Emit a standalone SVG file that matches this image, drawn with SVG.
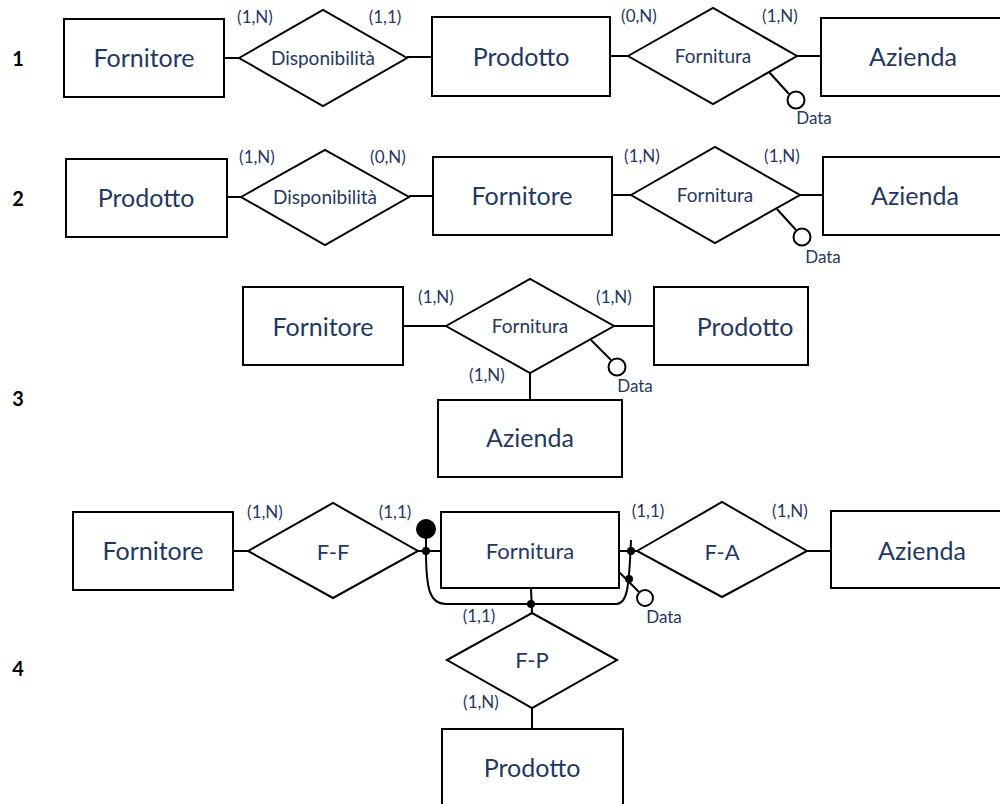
<svg xmlns="http://www.w3.org/2000/svg" width="1000" height="804" viewBox="0 0 1000 804">
<style>
.box{fill:#fff;stroke:#000;stroke-width:2}
.rel{fill:#fff;stroke:#000;stroke-width:2}
.ln{fill:none;stroke:#000;stroke-width:2}
.att{fill:#fff;stroke:#000;stroke-width:2}
.dot{fill:#000}
text{font-family:"Lato","Liberation Sans",sans-serif;fill:#1F3864;text-anchor:middle}
.ent{font-size:25px}
.rn{font-size:19px}
.rn2{font-size:22px}
.card{font-size:17px}
.dt{font-size:17px}
.num{font-size:20px;font-weight:bold;fill:#000}
</style>
<rect width="1000" height="804" fill="#fff"/>

<g id="row-labels">
<text class="num" x="18" y="66">1</text>
<text class="num" x="18" y="206">2</text>
<text class="num" x="18" y="406">3</text>
<text class="num" x="18" y="676">4</text>
</g>

<g id="connectors">
<!-- row 1 -->
<line class="ln" x1="224" y1="58" x2="239" y2="58"/>
<line class="ln" x1="407" y1="57" x2="432" y2="57"/>
<line class="ln" x1="610" y1="56" x2="628" y2="56"/>
<line class="ln" x1="797" y1="56" x2="821" y2="56"/>
<line class="ln" x1="769" y1="72" x2="789" y2="94"/>
<!-- row 2 -->
<line class="ln" x1="227" y1="197" x2="241" y2="197"/>
<line class="ln" x1="409" y1="196" x2="433" y2="196"/>
<line class="ln" x1="612" y1="195" x2="631" y2="195"/>
<line class="ln" x1="800" y1="195" x2="823" y2="195"/>
<line class="ln" x1="776" y1="208" x2="796" y2="230"/>
<!-- row 3 -->
<line class="ln" x1="403" y1="326" x2="446" y2="326"/>
<line class="ln" x1="614" y1="326" x2="654" y2="326"/>
<line class="ln" x1="530" y1="373" x2="530" y2="400"/>
<line class="ln" x1="591" y1="340" x2="611" y2="360"/>
<!-- row 4 -->
<line class="ln" x1="233" y1="551" x2="248" y2="551"/>
<line class="ln" x1="418" y1="551" x2="441" y2="551"/>
<line class="ln" x1="619" y1="551" x2="637" y2="551"/>
<line class="ln" x1="807" y1="551" x2="831" y2="551"/>
<line class="ln" x1="531" y1="588" x2="532" y2="613"/>
<line class="ln" x1="532" y1="708" x2="532" y2="729"/>
<line class="ln" x1="426" y1="529" x2="426" y2="551"/>
<path class="ln" d="M426,551 C426,590 430,604 446,604 L616,604 C627,604 629,590 631,540"/>
<line class="ln" x1="618" y1="571" x2="639" y2="592"/>
<circle class="dot" cx="426" cy="529" r="10"/>
<circle class="dot" cx="426" cy="551" r="4"/>
<circle class="dot" cx="531" cy="604" r="4"/>
<circle class="dot" cx="631" cy="551" r="4"/>
<circle class="dot" cx="629" cy="579" r="4"/>
</g>

<!-- Row 1 -->
<g id="r1-fornitore"><rect class="box" x="64" y="19" width="160" height="78"/><text class="ent" x="144" y="67">Fornitore</text></g>
<g id="r1-disponibilita"><polygon class="rel" points="239,58 323,10 407,58 323,106"/><text class="rn" x="323" y="65">Disponibilità</text></g>
<g id="r1-prodotto"><rect class="box" x="432" y="17" width="178" height="79"/><text class="ent" x="521" y="66">Prodotto</text></g>
<g id="r1-fornitura"><polygon class="rel" points="628,56 713,8 797,56 713,104"/><text class="rn" x="713" y="63">Fornitura</text></g>
<g id="r1-azienda"><rect class="box" x="821" y="18" width="190" height="78"/><text class="ent" x="913" y="66">Azienda</text></g>
<g id="r1-data"><circle class="att" cx="796" cy="100" r="8.5"/><text class="dt" x="814" y="124">Data</text></g>
<g id="r1-cards">
<text class="card" x="255" y="23">(1,N)</text>
<text class="card" x="385" y="23">(1,1)</text>
<text class="card" x="639" y="22">(0,N)</text>
<text class="card" x="780" y="22">(1,N)</text>
</g>

<!-- Row 2 -->
<g id="r2-prodotto"><rect class="box" x="66" y="159" width="161" height="78"/><text class="ent" x="146" y="207">Prodotto</text></g>
<g id="r2-disponibilita"><polygon class="rel" points="241,197 325,150 409,197 325,245"/><text class="rn" x="325" y="204">Disponibilità</text></g>
<g id="r2-fornitore"><rect class="box" x="433" y="157" width="179" height="78"/><text class="ent" x="522" y="205">Fornitore</text></g>
<g id="r2-fornitura"><polygon class="rel" points="631,195 715,147 800,195 715,243"/><text class="rn" x="715" y="202">Fornitura</text></g>
<g id="r2-azienda"><rect class="box" x="823" y="157" width="190" height="78"/><text class="ent" x="915" y="205">Azienda</text></g>
<g id="r2-data"><circle class="att" cx="802" cy="237" r="8.5"/><text class="dt" x="823" y="263">Data</text></g>
<g id="r2-cards">
<text class="card" x="257" y="163">(1,N)</text>
<text class="card" x="388" y="163">(0,N)</text>
<text class="card" x="642" y="162">(1,N)</text>
<text class="card" x="782" y="162">(1,N)</text>
</g>

<!-- Row 3 -->
<g id="r3-fornitore"><rect class="box" x="243" y="287" width="160" height="78"/><text class="ent" x="323" y="336">Fornitore</text></g>
<g id="r3-fornitura"><polygon class="rel" points="446,326 530,279 614,326 530,373"/><text class="rn" x="530" y="333">Fornitura</text></g>
<g id="r3-prodotto"><rect class="box" x="654" y="287" width="154" height="78"/><text class="ent" x="745" y="336">Prodotto</text></g>
<g id="r3-azienda"><rect class="box" x="438" y="400" width="184" height="77"/><text class="ent" x="530" y="447">Azienda</text></g>
<g id="r3-data"><circle class="att" cx="617" cy="367" r="8.5"/><text class="dt" x="635" y="392">Data</text></g>
<g id="r3-cards">
<text class="card" x="436" y="303">(1,N)</text>
<text class="card" x="614" y="303">(1,N)</text>
<text class="card" x="487" y="381">(1,N)</text>
</g>

<!-- Row 4 -->
<g id="r4-fornitore"><rect class="box" x="73" y="512" width="160" height="78"/><text class="ent" x="153" y="560">Fornitore</text></g>
<g id="r4-ff"><polygon class="rel" points="248,551 333,503 418,551 333,598"/><text class="rn2" x="333" y="560">F-F</text></g>
<g id="r4-fornitura"><rect class="box" x="441" y="512" width="178" height="76"/><text class="rn2" x="530" y="559">Fornitura</text></g>
<g id="r4-fa"><polygon class="rel" points="637,551 722,502 807,551 722,597"/><text class="rn2" x="722" y="560">F-A</text></g>
<g id="r4-azienda"><rect class="box" x="831" y="511" width="185" height="77"/><text class="ent" x="922" y="560">Azienda</text></g>
<g id="r4-fp"><polygon class="rel" points="447,660 532,613 617,660 532,708"/><text class="rn2" x="532" y="668">F-P</text></g>
<g id="r4-prodotto"><rect class="box" x="442" y="729" width="181" height="90"/><text class="ent" x="532" y="777">Prodotto</text></g>
<g id="r4-data"><circle class="att" cx="645" cy="598" r="8"/><text class="dt" x="664" y="623">Data</text></g>
<g id="r4-cards">
<text class="card" x="265" y="518">(1,N)</text>
<text class="card" x="395" y="518">(1,1)</text>
<text class="card" x="648" y="517">(1,1)</text>
<text class="card" x="790" y="517">(1,N)</text>
<text class="card" x="479" y="622">(1,1)</text>
<text class="card" x="481" y="708">(1,N)</text>
</g>
</svg>
